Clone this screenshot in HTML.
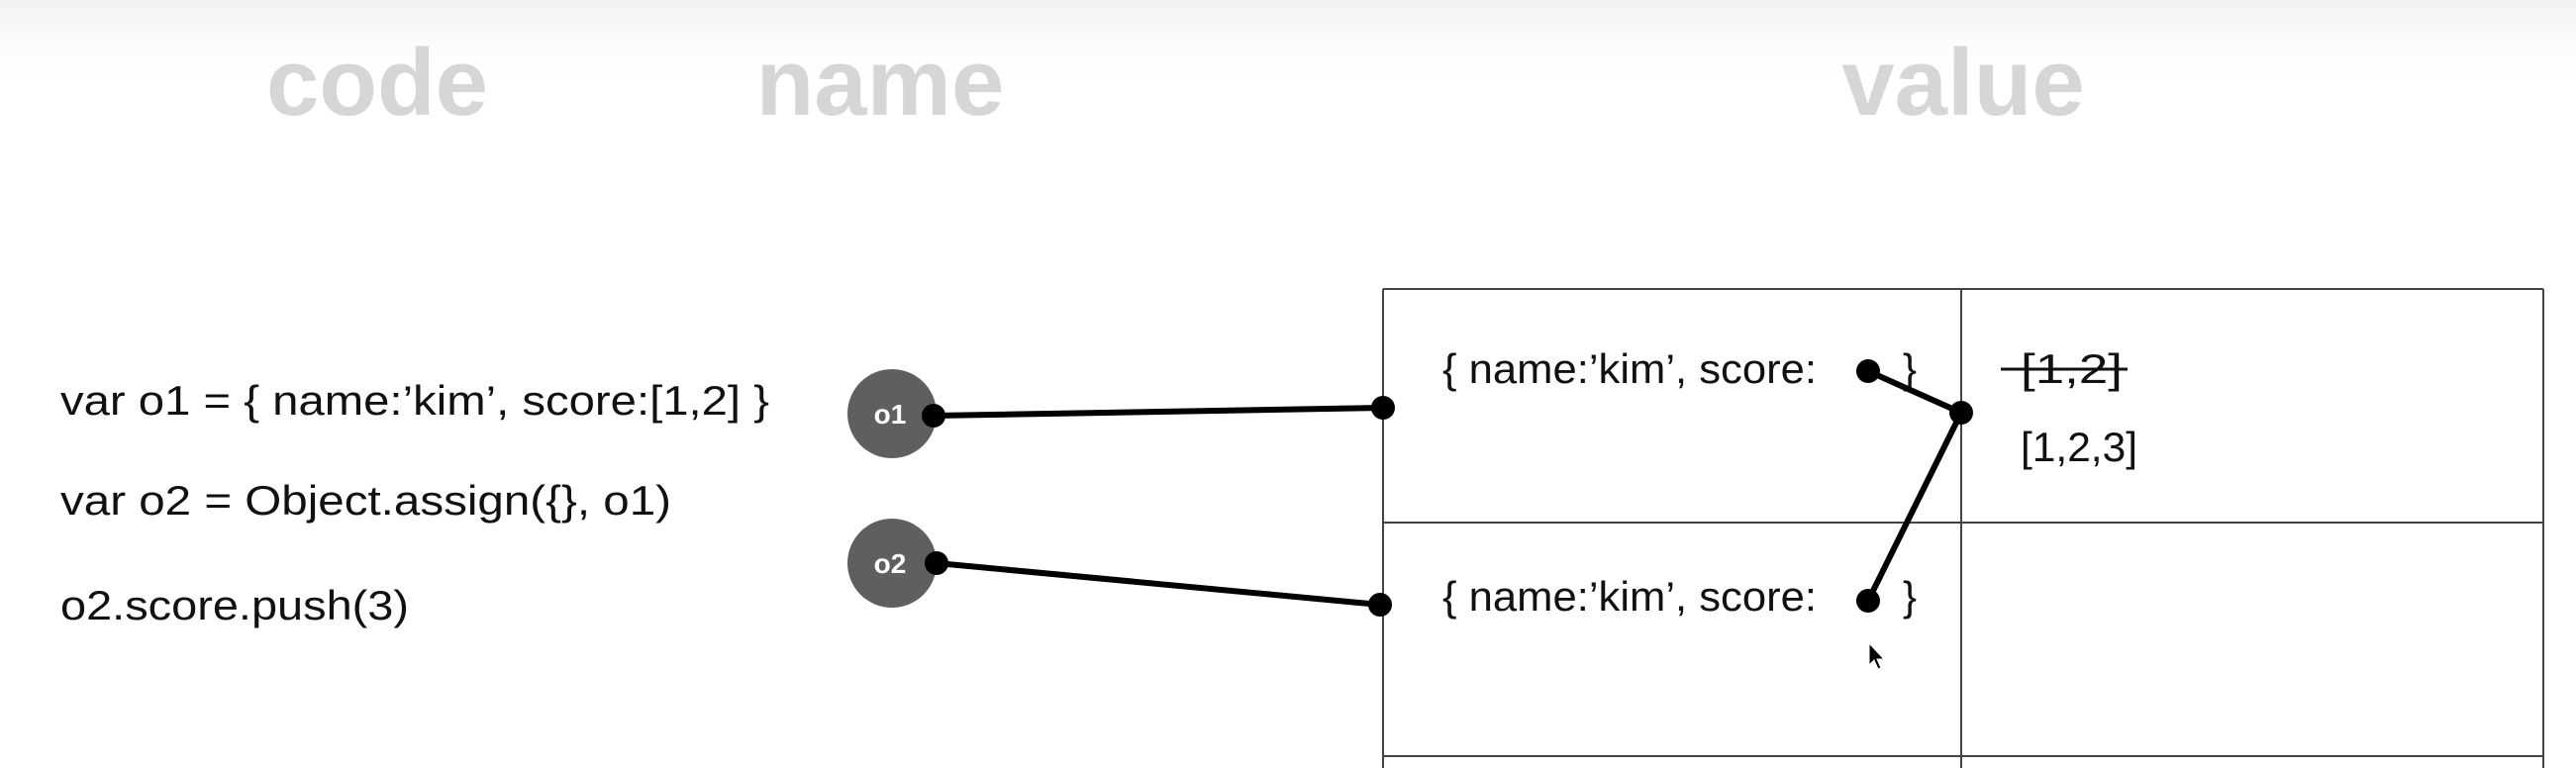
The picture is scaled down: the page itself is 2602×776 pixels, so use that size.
<!DOCTYPE html>
<html><head><meta charset="utf-8"><style>
html,body{margin:0;padding:0;background:#fff;}
body{width:2602px;height:776px;overflow:hidden;position:relative;
background:linear-gradient(#f2f2f2 0px,#fcfcfc 45px,#fff 80px);}
svg{position:absolute;left:0;top:0;}
</style></head><body>
<svg width="2602" height="776" xmlns="http://www.w3.org/2000/svg">
<g font-family="Liberation Sans, sans-serif" font-weight="bold" font-size="96" fill="#d6d6d6" text-anchor="middle">
<text x="381" y="116">code</text>
<text x="889" y="116">name</text>
<text x="1983" y="116">value</text>
</g>
<g font-family="Liberation Sans, sans-serif" font-size="42" fill="#111">
<text x="61" y="419" textLength="716" lengthAdjust="spacingAndGlyphs">var o1 = { name:’kim’,  score:[1,2] }</text>
<text x="61" y="520" textLength="617" lengthAdjust="spacingAndGlyphs">var o2 = Object.assign({}, o1)</text>
<text x="61" y="626" textLength="352" lengthAdjust="spacingAndGlyphs">o2.score.push(3)</text>
<text x="1457" y="387" textLength="378" lengthAdjust="spacingAndGlyphs">{ name:’kim’,  score:</text>
<text x="1922" y="387">}</text>
<text x="1457" y="617" textLength="378" lengthAdjust="spacingAndGlyphs">{ name:’kim’,  score:</text>
<text x="1922" y="617">}</text>
<text x="2041" y="387" textLength="103" lengthAdjust="spacingAndGlyphs">[1,2]</text>
<text x="2041" y="466" textLength="118" lengthAdjust="spacingAndGlyphs">[1,2,3]</text>
</g>
<line x1="2021" y1="373" x2="2149" y2="373" stroke="#111" stroke-width="3"/>
<g stroke="#444" stroke-width="2" fill="none">
<line x1="1397" y1="292" x2="2569" y2="292"/>
<line x1="1397" y1="528" x2="2569" y2="528"/>
<line x1="1397" y1="764" x2="2569" y2="764"/>
<line x1="1397" y1="292" x2="1397" y2="776"/>
<line x1="1981" y1="292" x2="1981" y2="776"/>
<line x1="2569" y1="292" x2="2569" y2="776"/>
</g>
<circle cx="901" cy="418" r="45" fill="#5f5f5f"/>
<circle cx="901" cy="569" r="45" fill="#5f5f5f"/>
<g font-family="Liberation Sans, sans-serif" font-weight="bold" font-size="28" fill="#fff" text-anchor="middle">
<text x="899" y="428">o1</text>
<text x="899" y="579">o2</text>
</g>
<g stroke="#000" stroke-width="6" stroke-linecap="round">
<line x1="943" y1="420" x2="1397" y2="412"/>
<line x1="946" y1="569" x2="1394" y2="611"/>
<line x1="1887" y1="375" x2="1981" y2="417"/>
<line x1="1887" y1="607" x2="1981" y2="417"/>
</g>
<g fill="#000">
<circle cx="943" cy="420" r="12"/>
<circle cx="1397" cy="412" r="12"/>
<circle cx="946" cy="569" r="12"/>
<circle cx="1394" cy="611" r="12"/>
<circle cx="1887" cy="375" r="12"/>
<circle cx="1981" cy="417" r="12"/>
<circle cx="1887" cy="607" r="12"/>
</g>
<path d="M1888 650 L1888 672 L1893 667 L1897 676 L1900 675 L1896 666 L1903 666 Z" fill="#000" stroke="#fff" stroke-width="1"/>
</svg>
</body></html>
